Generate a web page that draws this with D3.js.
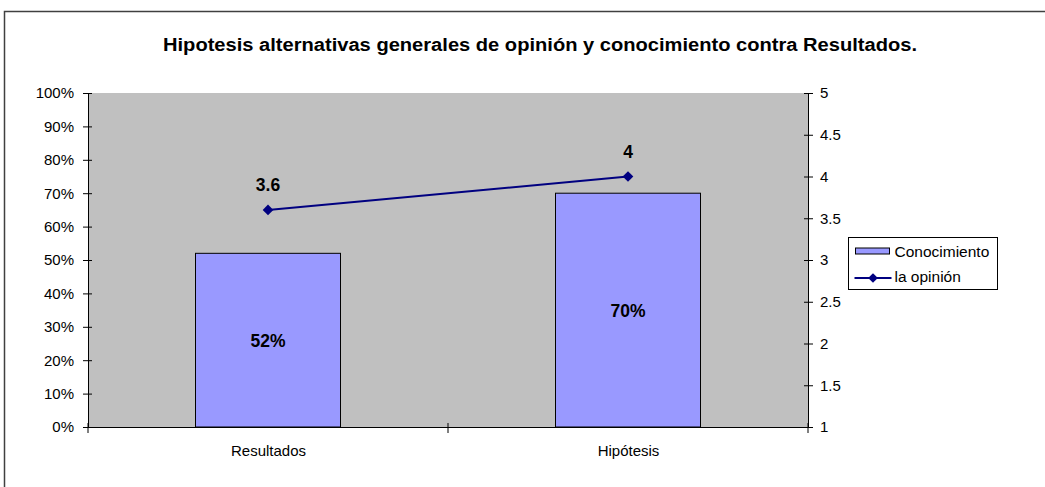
<!DOCTYPE html>
<html>
<head>
<meta charset="utf-8">
<script src="https://cdn.jsdelivr.net/npm/d3@7"></script>
<style>
  body { margin: 0; background: #fff; }
  text { font-family: "Liberation Sans", Arial, sans-serif; }
</style>
</head>
<body>
<svg id="chart" width="1045" height="487"></svg>
<script>
var categories = ["Resultados", "Hipótesis"];
var conocimiento = [0.52, 0.70];
var opinion = [3.6, 4];
var leftTicks = [0, 0.1, 0.2, 0.3, 0.4, 0.5, 0.6, 0.7, 0.8, 0.9, 1];
var rightTicks = [1, 1.5, 2, 2.5, 3, 3.5, 4, 4.5, 5];
var title = "Hipotesis alternativas generales de opinión y conocimiento contra Resultados.";

var margin = { top: 93, left: 88 },
    width = 720,
    height = 334;

var svg = d3.select("#chart");

// outer chart border
svg.append("rect")
  .attr("x", 4.5).attr("y", 11.5)
  .attr("width", 1100).attr("height", 600)
  .attr("fill", "#fff")
  .attr("stroke", "#404040")
  .attr("stroke-width", 1.5);

svg.append("text")
  .attr("x", 163).attr("y", 51)
  .attr("textLength", 754)
  .attr("lengthAdjust", "spacingAndGlyphs")
  .style("font-size", "17.5px")
  .style("font-weight", "bold")
  .text(title);

var g = svg.append("g").attr("transform", "translate(" + margin.left + "," + margin.top + ")");

var xCenter = d3.scalePoint().domain(categories).range([0, width]).padding(0.5);
var y = d3.scaleLinear().domain([0, 1]).range([height, 0]);
var y2 = d3.scaleLinear().domain([1, 5]).range([height, 0]);
var barW = 145;

g.append("rect")
  .attr("width", width).attr("height", height)
  .attr("fill", "#c0c0c0");

g.selectAll(".bar")
  .data(conocimiento)
  .enter().append("rect")
  .attr("class", "bar")
  .attr("x", function(d, i) { return xCenter(categories[i]) - barW / 2; })
  .attr("y", function(d) { return y(d); })
  .attr("width", barW)
  .attr("height", function(d) { return height - y(d); })
  .attr("fill", "#9999ff")
  .attr("stroke", "#000")
  .attr("stroke-width", 1);

g.selectAll(".barlabel")
  .data(conocimiento)
  .enter().append("text")
  .attr("x", function(d, i) { return xCenter(categories[i]); })
  .attr("y", function(d) { return (y(d) + height) / 2 + 6.5; })
  .attr("text-anchor", "middle")
  .style("font-size", "17.5px")
  .style("font-weight", "bold")
  .text(function(d) { return Math.round(d * 100) + "%"; });

// axes
var leftAxis = g.append("g")
  .call(d3.axisLeft(y).tickValues(leftTicks).tickSize(5).tickSizeOuter(0)
    .tickFormat(function(d) { return Math.round(d * 100) + "%"; }));
leftAxis.selectAll(".tick line").attr("x1", 4).attr("x2", -5);

var rightAxis = g.append("g")
  .attr("transform", "translate(" + width + ",0)")
  .call(d3.axisRight(y2).tickValues(rightTicks).tickSize(5).tickSizeOuter(0)
    .tickFormat(function(d) { return d; }));
rightAxis.selectAll(".tick line").attr("x1", -4).attr("x2", 5);

var bottomAxis = g.append("g")
  .attr("transform", "translate(0," + height + ")")
  .call(d3.axisBottom(xCenter).tickSize(0).tickSizeOuter(0));
bottomAxis.selectAll(".tick text").attr("dy", "1.7em");
// category separators
[0, width / 2, width].forEach(function(p) {
  bottomAxis.append("line").attr("x1", p).attr("x2", p).attr("y1", -4).attr("y2", 6).attr("stroke", "#000");
});

[leftAxis, rightAxis, bottomAxis].forEach(function(a) {
  a.selectAll("text").style("font-size", "15px").style("font-family", "Liberation Sans, Arial, sans-serif").attr("fill", "#000");
  a.selectAll("path, line").attr("stroke", "#000");
});
leftAxis.selectAll(".tick text").attr("x", -14);
rightAxis.selectAll(".tick text").attr("x", 12);

// line series
var line = d3.line()
  .x(function(d, i) { return xCenter(categories[i]); })
  .y(function(d) { return y2(d); });

g.append("path")
  .datum(opinion)
  .attr("d", line)
  .attr("fill", "none")
  .attr("stroke", "#000080")
  .attr("stroke-width", 2);

g.selectAll(".pt")
  .data(opinion)
  .enter().append("path")
  .attr("class", "pt")
  .attr("transform", function(d, i) { return "translate(" + xCenter(categories[i]) + "," + y2(d) + ")"; })
  .attr("d", d3.symbol().type(d3.symbolDiamond2).size(72))
  .attr("fill", "#000080");

g.selectAll(".ptlabel")
  .data(opinion)
  .enter().append("text")
  .attr("x", function(d, i) { return xCenter(categories[i]); })
  .attr("y", function(d) { return y2(d) - 18.5; })
  .attr("text-anchor", "middle")
  .style("font-size", "17.5px")
  .style("font-weight", "bold")
  .text(function(d) { return d; });

// legend
var lg = svg.append("g").attr("transform", "translate(848.5,237.5)");
lg.append("rect").attr("width", 149).attr("height", 52).attr("fill", "#fff").attr("stroke", "#000");
lg.append("rect").attr("x", 7).attr("y", 10.5).attr("width", 34).attr("height", 6).attr("fill", "#9999ff").attr("stroke", "#000");
lg.append("text").attr("x", 46).attr("y", 19.5).style("font-size", "15.5px").text("Conocimiento");
lg.append("line").attr("x1", 6).attr("x2", 43).attr("y1", 40.5).attr("y2", 40.5).attr("stroke", "#000080").attr("stroke-width", 2);
lg.append("path").attr("transform", "translate(24.5,40.5)")
  .attr("d", d3.symbol().type(d3.symbolDiamond2).size(60)).attr("fill", "#000080");
lg.append("text").attr("x", 46).attr("y", 44).style("font-size", "15.5px").text("la opinión");
</script>
</body>
</html>
